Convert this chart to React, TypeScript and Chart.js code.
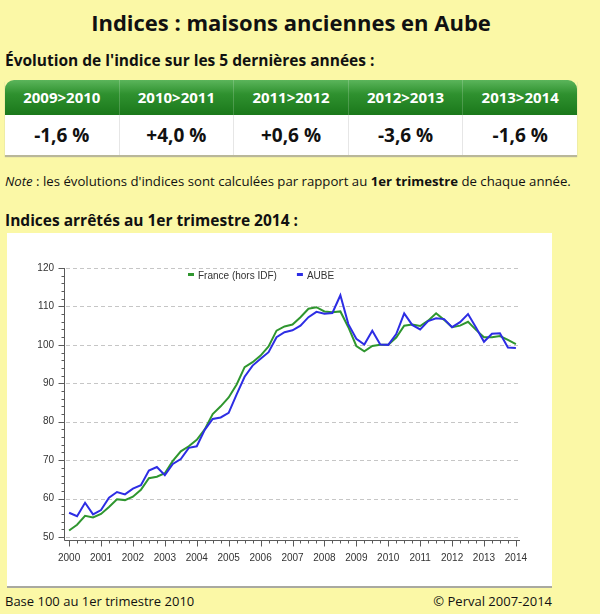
import React, { useEffect, useRef } from 'react';
import { Chart, registerables } from 'chart.js';

Chart.register(...registerables);

const PAGE_TITLE = 'Indices : maisons anciennes en Aube';
const periods = ['2009>2010', '2010>2011', '2011>2012', '2012>2013', '2013>2014'];
const evolutions = [-1.6, 4.0, 0.6, -3.6, -1.6];

const startYear = 2000;
const yearTicks = [2000, 2001, 2002, 2003, 2004, 2005, 2006, 2007, 2008, 2009, 2010, 2011, 2012, 2013, 2014];
const yTicks = [50, 60, 70, 80, 90, 100, 110, 120];

// quarterly indices, 2000 T1 .. 2014 T1
const franceHorsIDF = [
  51.7, 53.2, 55.5, 55.1,
  56.0, 57.8, 59.8, 59.6,
  60.5, 62.3, 65.3, 65.7,
  66.6, 69.8, 72.3, 73.6,
  75.3, 78.0, 82.0, 84.0,
  86.3, 89.7, 94.2, 95.5,
  97.2, 99.6, 103.7, 104.8,
  105.3, 107.2, 109.4, 109.8,
  108.7, 108.5, 108.7, 104.6,
  99.7, 98.3, 99.7, 100.0,
  100.0, 101.9, 105.0, 105.3,
  104.9, 106.3, 108.2, 106.5,
  104.6, 105.0, 106.0, 103.9,
  102.0, 102.0, 102.3, 101.3,
  100.2,
];
const aube = [
  56.3, 55.4, 58.9, 55.9,
  57.0, 60.2, 61.7, 61.1,
  62.6, 63.5, 67.3, 68.2,
  66.1, 69.0, 70.3, 73.2,
  73.6, 77.9, 80.7, 81.1,
  82.3, 87.1, 91.7, 94.6,
  96.4, 98.1, 102.0, 103.3,
  103.8, 105.0, 107.2, 108.6,
  108.1, 108.3, 112.9, 105.4,
  101.6, 100.1, 103.7, 100.1,
  100.0, 102.8, 108.2, 105.2,
  104.0, 106.2, 106.9, 106.7,
  104.6, 105.9, 108.0, 104.5,
  100.8, 102.9, 103.0, 99.3,
  99.2,
];

const seriesNames = ['France (hors IDF)', 'AUBE'];
const seriesColors = ['#2f962f', '#2d2de4'];

const BG = '#fbf8a6';
const CHART_FONT = '"Liberation Sans", Arial, sans-serif';
const PAGE_FONT = '"Open Sans", sans-serif';

const fmtEvo = (v: number) => (v > 0 ? '+' : '') + v.toFixed(1).replace('.', ',') + ' %';

const axesPlugin = {
  id: 'perAxes',
  beforeDatasetsDraw(chart: any) {
    const { ctx, chartArea: a, scales } = chart;
    const ys = scales.y;
    ctx.save();
    ctx.strokeStyle = '#c6c6c6';
    ctx.lineWidth = 1;
    ctx.setLineDash([4, 3]);
    for (const v of yTicks) {
      const py = Math.round(ys.getPixelForValue(v)) + 0.5;
      ctx.beginPath();
      ctx.moveTo(a.left + 2, py);
      ctx.lineTo(a.right, py);
      ctx.stroke();
    }
    ctx.restore();
  },
  afterDraw(chart: any) {
    const { ctx, chartArea: a, scales } = chart;
    const xs = scales.x;
    const ys = scales.y;
    ctx.save();
    ctx.strokeStyle = '#5a5a5a';
    ctx.lineWidth = 1;
    const ax = Math.round(a.left) + 0.5;
    const ay = Math.round(a.bottom) + 3.5;
    const topY = Math.round(ys.getPixelForValue(yTicks[yTicks.length - 1]));
    ctx.beginPath();
    ctx.moveTo(ax, topY);
    ctx.lineTo(ax, ay);
    ctx.lineTo(Math.round(a.right) - 1, ay);
    ctx.stroke();
    // y ticks (major every 10, minor every 2)
    ctx.beginPath();
    for (let v = yTicks[0]; v <= yTicks[yTicks.length - 1]; v += 2) {
      const py = Math.round(ys.getPixelForValue(v)) + 0.5;
      const len = v % 10 === 0 ? 6 : 3;
      ctx.moveTo(ax - len, py);
      ctx.lineTo(ax, py);
    }
    ctx.stroke();
    // x ticks (major each year, minor each quarter)
    ctx.beginPath();
    const n = franceHorsIDF.length;
    for (let i = 0; i < n; i++) {
      const px = Math.round(xs.getPixelForValue(startYear + i / 4)) + 0.5;
      const len = i % 4 === 0 ? 6 : 3;
      ctx.moveTo(px, ay);
      ctx.lineTo(px, ay + len);
    }
    ctx.stroke();
    // legend
    ctx.font = '10px ' + CHART_FONT;
    ctx.textBaseline = 'middle';
    ctx.fillStyle = '#333';
    let lx = 181;
    const ly = a.top + 7;
    chart.data.datasets.forEach((ds: any) => {
      ctx.fillStyle = ds.borderColor;
      ctx.fillRect(lx, ly - 2, 6, 3);
      ctx.fillStyle = '#333';
      ctx.fillText(ds.label, lx + 10, ly + 1);
      lx += 10 + ctx.measureText(ds.label).width + 20;
    });
    ctx.restore();
  },
};

export default function App() {
  const canvasRef = useRef<HTMLCanvasElement>(null);

  useEffect(() => {
    document.body.style.margin = '0';
    document.body.style.background = BG;
    const canvas = canvasRef.current;
    if (!canvas) return;
    const chart = new Chart(canvas, {
      type: 'line',
      data: {
        datasets: [
          {
            label: seriesNames[0],
            data: franceHorsIDF.map((v, i) => ({ x: startYear + i / 4, y: v })),
            borderColor: seriesColors[0],
            backgroundColor: seriesColors[0],
            borderWidth: 2,
            pointRadius: 0,
            tension: 0,
            order: 1,
          },
          {
            label: seriesNames[1],
            data: aube.map((v, i) => ({ x: startYear + i / 4, y: v })),
            borderColor: seriesColors[1],
            backgroundColor: seriesColors[1],
            borderWidth: 2,
            pointRadius: 0,
            tension: 0,
            order: 0,
          },
        ],
      },
      options: {
        responsive: false,
        animation: false,
        devicePixelRatio: 1,
        layout: { padding: { top: 35, right: 31, left: 0, bottom: 0 } },
        plugins: { legend: { display: false }, tooltip: { enabled: false } },
        scales: {
          x: {
            type: 'linear',
            min: 1999.84,
            max: 2014.16,
            grid: { display: false, drawTicks: false },
            border: { display: false },
            afterBuildTicks: (s: any) => {
              s.ticks = yearTicks.map((v) => ({ value: v }));
            },
            afterFit: (s: any) => {
              s.height = 49;
            },
            ticks: {
              autoSkip: false,
              maxRotation: 0,
              padding: 15,
              color: '#333',
              font: { family: CHART_FONT, size: 10 },
              callback: (v: any) => String(v),
            },
          },
          y: {
            type: 'linear',
            min: 50,
            max: 120,
            grid: { display: false, drawTicks: false },
            border: { display: false },
            afterBuildTicks: (s: any) => {
              s.ticks = yTicks.map((v) => ({ value: v }));
            },
            afterFit: (s: any) => {
              s.width = 57;
            },
            ticks: {
              padding: 10,
              color: '#333',
              font: { family: CHART_FONT, size: 10 },
              callback: (v: any) => String(v),
            },
          },
        },
      } as any,
      plugins: [axesPlugin],
    } as any);
    return () => chart.destroy();
  }, []);

  const abs = (o: any) => ({ position: 'absolute', ...o }) as React.CSSProperties;

  return (
    <div style={{ position: 'relative', width: 600, height: 614, background: BG, fontFamily: PAGE_FONT, color: '#111', overflow: 'hidden' }}>
      <div style={abs({ left: 0, top: 8, width: 582, height: 28, lineHeight: '28px', textAlign: 'center', fontSize: 22, fontWeight: 700 })}>
        {PAGE_TITLE}
      </div>
      <div style={abs({ left: 5, top: 50, height: 20, lineHeight: '20px', fontSize: 15.5, fontWeight: 700, whiteSpace: 'nowrap' })}>
        Évolution de l'indice sur les 5 dernières années :
      </div>
      <div style={abs({ left: 5, top: 80, width: 572, boxShadow: '0 2px 1px #b9b79a' })}>
        <div style={{ display: 'flex', height: 35, borderRadius: '9px 9px 0 0', background: 'linear-gradient(#5bb55b 0%, #2f912f 40%, #1b781b 100%)' }}>
          {periods.map((p, i) => (
            <div key={p} style={{ flex: 1, color: '#fff', fontWeight: 700, fontSize: 15, lineHeight: '35px', textAlign: 'center', borderLeft: i ? '1px solid rgba(255,255,255,0.18)' : 'none' }}>
              {p}
            </div>
          ))}
        </div>
        <div style={{ display: 'flex', height: 40, background: '#fff' }}>
          {evolutions.map((v, i) => (
            <div key={i} style={{ flex: 1, fontWeight: 700, fontSize: 19, lineHeight: '40px', textAlign: 'center', borderLeft: i ? '1px solid #e6e6e6' : 'none' }}>
              {fmtEvo(v)}
            </div>
          ))}
        </div>
      </div>
      <div style={abs({ left: 5, top: 172, height: 18, lineHeight: '18px', fontSize: 13.2, whiteSpace: 'nowrap' })}>
        <i>Note</i> : les évolutions d'indices sont calculées par rapport au <b>1er trimestre</b> de chaque année.
      </div>
      <div style={abs({ left: 5, top: 210, height: 20, lineHeight: '20px', fontSize: 15.5, fontWeight: 700, whiteSpace: 'nowrap' })}>
        Indices arrêtés au 1er trimestre 2014 :
      </div>
      <div style={abs({ left: 7, top: 233, width: 545, height: 353, background: '#fff', boxShadow: '0 2px 0 #a9a9a0' })}>
        <canvas ref={canvasRef} width={545} height={353} style={{ display: 'block' }} />
      </div>
      <div style={abs({ left: 5, top: 592, height: 18, lineHeight: '18px', fontSize: 13, whiteSpace: 'nowrap' })}>
        Base 100 au 1er trimestre 2010
      </div>
      <div style={abs({ left: 352, width: 200, top: 592, height: 18, lineHeight: '18px', fontSize: 13, textAlign: 'right', whiteSpace: 'nowrap' })}>
        © Perval 2007-2014
      </div>
    </div>
  );
}
